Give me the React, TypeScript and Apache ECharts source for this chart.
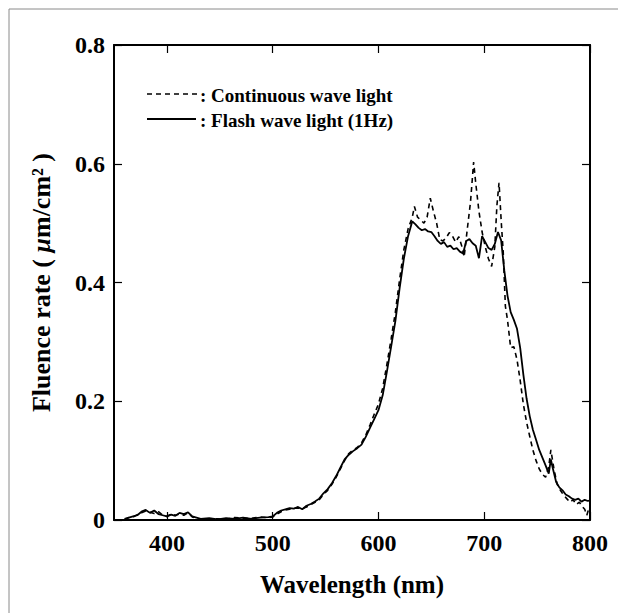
import React, { useEffect, useRef } from "react";
import * as echarts from "echarts";

const seriesNames = ["Continuous wave light", "Flash wave light (1Hz)"];
const xTickValues = [400, 500, 600, 700, 800];

const cwWavelength = [
  360, 364, 368, 372, 376, 380, 384, 388, 392, 396, 400, 404, 408, 412, 416, 420, 424, 428, 432, 440,
  448, 456, 464, 472, 480, 488, 496, 500, 504, 508, 512, 516, 520, 524, 528, 532, 536, 540, 544, 548,
  552, 556, 560, 564, 568, 572, 576, 580, 584, 588, 592, 596, 600, 604, 608, 612, 616, 620, 624, 628,
  632, 634, 637, 640, 643, 646, 649, 652, 655, 658, 661, 664, 667, 670, 673, 676, 679, 681, 684, 687,
  690, 692, 695, 698, 701, 704, 707, 710, 712, 714, 716, 718, 720, 722, 725, 728, 731, 734, 737, 740,
  743, 746, 749, 752, 755, 758, 761, 763, 766, 769, 772, 775, 778, 781, 784, 787, 790, 793, 795, 797,
  799, 800,
];
const cwValues = [
  0.001, 0.004, 0.005, 0.009, 0.012, 0.015, 0.013, 0.011, 0.014, 0.008, 0.006, 0.01, 0.008, 0.01, 0.008, 0.012, 0.005, 0.003, 0.001, 0.002,
  0.002, 0.001, 0.004, 0.003, 0.003, 0.005, 0.004, 0.005, 0.01, 0.014, 0.017, 0.018, 0.02, 0.02, 0.019, 0.022, 0.026, 0.03, 0.034, 0.043,
  0.05, 0.06, 0.072, 0.086, 0.1, 0.112, 0.118, 0.122, 0.13, 0.143, 0.16, 0.178, 0.195, 0.222, 0.262, 0.305, 0.35, 0.405, 0.455, 0.49,
  0.51, 0.528, 0.51, 0.505, 0.5, 0.51, 0.542, 0.52, 0.5, 0.472, 0.47, 0.475, 0.484, 0.478, 0.468, 0.477, 0.46, 0.443, 0.49, 0.535,
  0.603, 0.567, 0.52, 0.485, 0.46, 0.44, 0.427, 0.46, 0.53, 0.568, 0.505, 0.45, 0.36, 0.337, 0.29, 0.292, 0.27, 0.235, 0.195, 0.165,
  0.141, 0.118, 0.1, 0.086, 0.077, 0.072, 0.09, 0.118, 0.085, 0.06, 0.05, 0.042, 0.036, 0.03, 0.034, 0.026, 0.03, 0.022, 0.018, 0.008,
  0.02, 0.015,
];

const flashWavelength = [
  360, 364, 368, 372, 376, 380, 384, 388, 392, 396, 400, 404, 408, 412, 416, 420, 424, 428, 432, 440,
  448, 456, 464, 472, 480, 488, 496, 500, 504, 508, 512, 516, 520, 524, 528, 532, 536, 540, 544, 548,
  552, 556, 560, 564, 568, 572, 576, 580, 584, 588, 592, 596, 600, 604, 608, 612, 616, 620, 624, 628,
  632, 635, 638, 641, 644, 647, 650, 653, 656, 659, 662, 665, 668, 671, 674, 677, 680, 683, 686, 689,
  692, 695, 698, 701, 704, 707, 710, 713, 716, 719, 722, 725, 728, 731, 734, 737, 740, 743, 746, 749,
  752, 755, 758, 761, 763, 765, 768, 771, 774, 777, 780, 783, 786, 789, 792, 795, 798, 800,
];
const flashValues = [
  0.002, 0.004, 0.006, 0.008, 0.014, 0.017, 0.012, 0.016, 0.01, 0.008, 0.006, 0.009, 0.007, 0.012, 0.01, 0.013, 0.006, 0.004, 0.002, 0.003,
  0.001, 0.003, 0.002, 0.004, 0.002, 0.004, 0.005, 0.006, 0.012, 0.016, 0.018, 0.02, 0.019, 0.022, 0.018, 0.024, 0.027, 0.031, 0.036, 0.045,
  0.052, 0.062, 0.074, 0.088, 0.102, 0.11, 0.116, 0.121, 0.127, 0.14, 0.155, 0.17, 0.185, 0.21, 0.25, 0.292, 0.335, 0.39, 0.44, 0.478,
  0.503, 0.498, 0.492, 0.488, 0.49, 0.486, 0.485, 0.478, 0.47, 0.465, 0.468, 0.46, 0.462, 0.456, 0.458, 0.452, 0.449, 0.47, 0.473, 0.466,
  0.462, 0.441, 0.478, 0.468, 0.458, 0.455, 0.465, 0.485, 0.471, 0.42, 0.378, 0.35, 0.337, 0.322, 0.29, 0.245, 0.205, 0.175, 0.152, 0.135,
  0.118, 0.105, 0.092, 0.078, 0.102, 0.086, 0.064, 0.055, 0.05, 0.043, 0.04, 0.036, 0.034, 0.036, 0.031, 0.034, 0.032, 0.033,
];

const FONT = "'Liberation Serif', 'DejaVu Serif', serif";
const CW_DASH = [5, 4];

export default function App() {
  const ref = useRef<HTMLDivElement>(null);
  useEffect(() => {
    if (!ref.current) return;
    const chart = echarts.init(ref.current, null, { renderer: "svg" });
    const cwData = cwWavelength.map((w, i) => [w, cwValues[i]]);
    const flashData = flashWavelength.map((w, i) => [w, flashValues[i]]);
    const axisLine = { show: true, onZero: false, lineStyle: { color: "#000", width: 2 } };
    const tick = { show: true, inside: true, length: 8, lineStyle: { color: "#000", width: 1.2 } };
    const legendText = {
      fontFamily: FONT,
      fontWeight: "bold",
      fontSize: 19,
      fill: "#000",
      verticalAlign: "middle",
      align: "left",
    };
    chart.setOption({
      animation: false,
      backgroundColor: "#fff",
      grid: { left: 114, right: 28, top: 45, bottom: 93, containLabel: false },
      graphic: [
        {
          type: "rect",
          shape: { x: 9, y: 9, width: 700, height: 700 },
          style: { fill: "none", stroke: "#8a8a8a", lineWidth: 1 },
          silent: true,
        },
        {
          type: "line",
          shape: { x1: 147, y1: 94, x2: 198, y2: 94 },
          style: { stroke: "#000", lineWidth: 1.6, lineDash: CW_DASH },
          silent: true,
        },
        {
          type: "text",
          x: 200,
          y: 95,
          style: { ...legendText, text: ": " + seriesNames[0] },
          silent: true,
        },
        {
          type: "line",
          shape: { x1: 147, y1: 119, x2: 196, y2: 119 },
          style: { stroke: "#000", lineWidth: 1.8 },
          silent: true,
        },
        {
          type: "text",
          x: 200,
          y: 120,
          style: { ...legendText, text: ": " + seriesNames[1] },
          silent: true,
        },
      ],
      xAxis: [
        {
          type: "value",
          min: 350,
          max: 800,
          interval: 50,
          axisLine,
          axisTick: { ...tick, customValues: xTickValues },
          splitLine: { show: false },
          axisLabel: {
            customValues: xTickValues,
            margin: 11,
            fontFamily: FONT,
            fontWeight: "bold",
            fontSize: 24,
            color: "#000",
          },
          name: "Wavelength (nm)",
          nameLocation: "middle",
          nameGap: 52,
          nameTextStyle: { fontFamily: FONT, fontWeight: "bold", fontSize: 25, color: "#000" },
        },
        {
          type: "value",
          position: "top",
          min: 350,
          max: 800,
          interval: 50,
          axisLine,
          axisTick: { ...tick, customValues: xTickValues },
          axisLabel: { show: false },
          splitLine: { show: false },
        },
      ],
      yAxis: [
        {
          type: "value",
          min: 0,
          max: 0.8,
          interval: 0.2,
          axisLine,
          axisTick: tick,
          splitLine: { show: false },
          axisLabel: {
            margin: 9,
            fontFamily: FONT,
            fontWeight: "bold",
            fontSize: 24,
            color: "#000",
            formatter: (v: number) => (v === 0 ? "0" : v.toFixed(1)),
          },
          name: "{n|Fluence rate ( }{i|μ}{n|m/cm² )}",
          nameLocation: "middle",
          nameGap: 60,
          nameRotate: 90,
          nameTextStyle: {
            color: "#000",
            rich: {
              n: { fontFamily: FONT, fontWeight: "bold", fontSize: 26, color: "#000" },
              i: { fontFamily: FONT, fontWeight: "bold", fontStyle: "italic", fontSize: 26, color: "#000" },
            },
          },
        },
        {
          type: "value",
          position: "right",
          min: 0,
          max: 0.8,
          interval: 0.2,
          axisLine,
          axisTick: tick,
          axisLabel: { show: false },
          splitLine: { show: false },
        },
      ],
      series: [
        {
          name: seriesNames[0],
          type: "line",
          data: cwData,
          showSymbol: false,
          symbol: "none",
          color: "#000",
          lineStyle: { color: "#000", width: 1.6, type: CW_DASH },
        },
        {
          name: seriesNames[1],
          type: "line",
          data: flashData,
          showSymbol: false,
          symbol: "none",
          color: "#000",
          lineStyle: { color: "#000", width: 1.8, type: "solid" },
        },
      ],
    });
    return () => chart.dispose();
  }, []);
  return (
    <div
      ref={ref}
      style={{ position: "fixed", left: 0, top: 0, width: 618, height: 613, background: "#fff" }}
    />
  );
}
